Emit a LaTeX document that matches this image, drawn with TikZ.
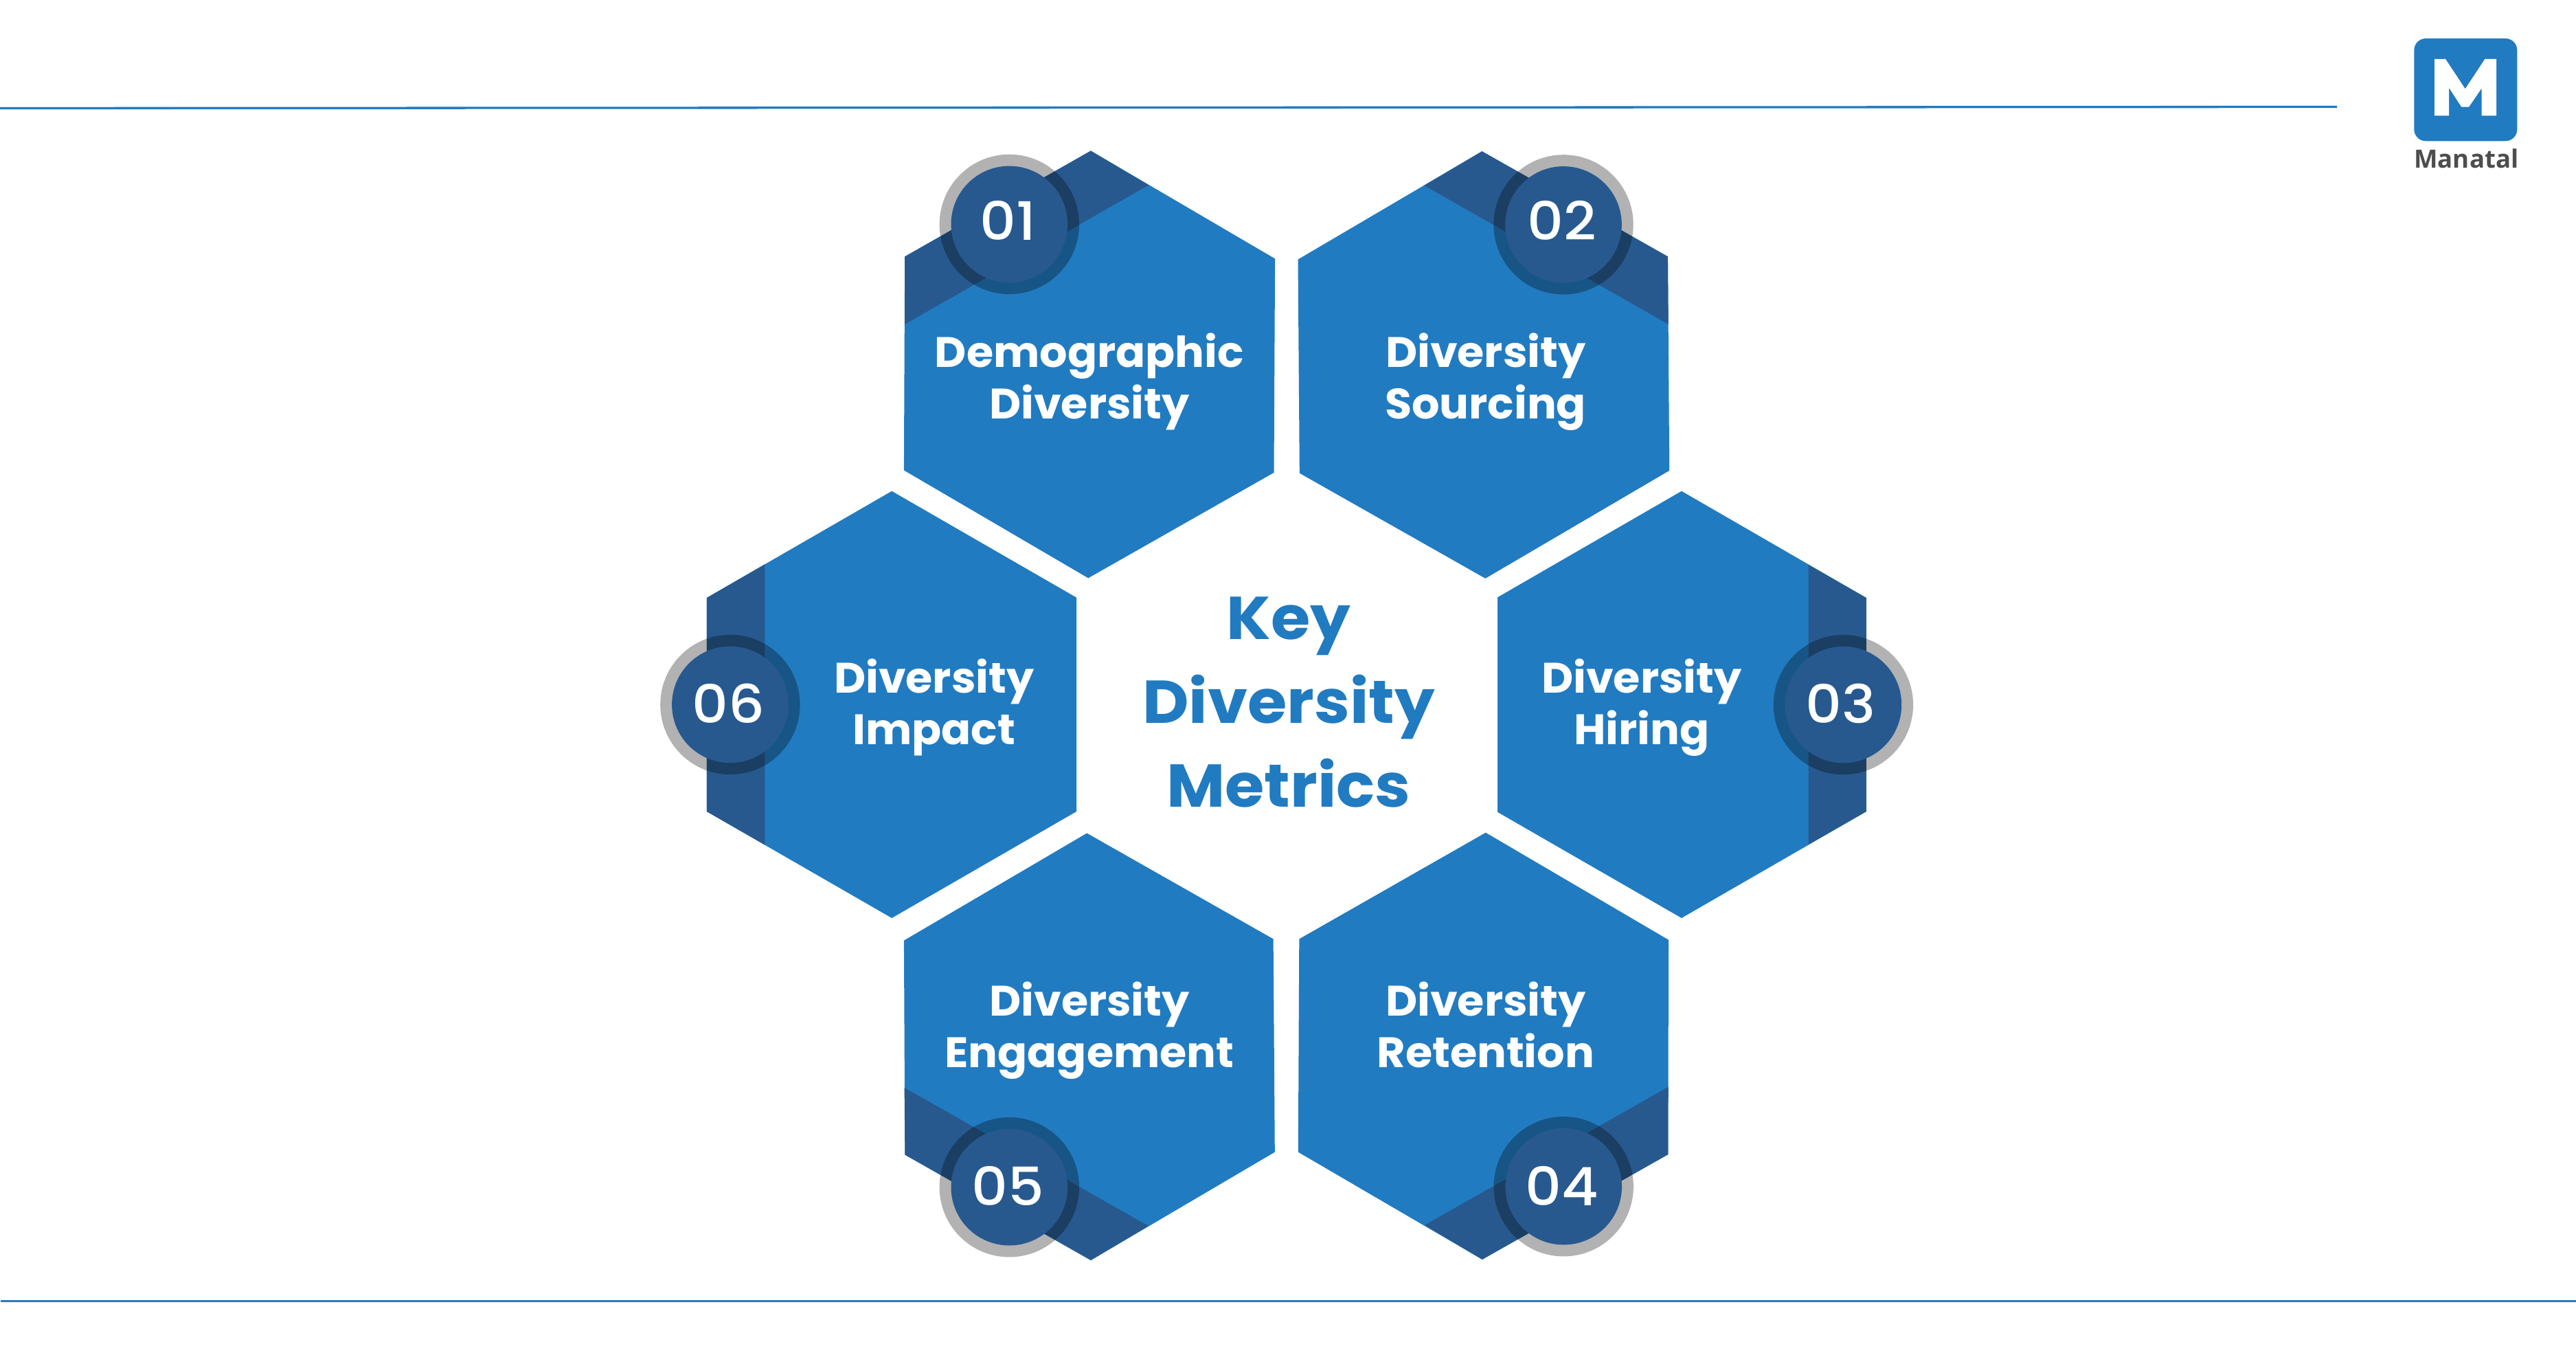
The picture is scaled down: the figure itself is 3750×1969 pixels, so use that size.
\documentclass[tikz,border=0pt]{standalone}
\usepackage{fontspec}
\setmainfont{Poppins}
\newfontfamily\labelfont{Poppins Bold}[FakeStretch=1.025]
\newfontfamily\titlefont{Poppins Bold}[FakeStretch=1.055]
\newfontfamily\numfont{Poppins Medium}[FakeStretch=1.07]
\newfontfamily\logofont{Open Sans}
\definecolor{hexblue}{HTML}{217BC1}
\definecolor{banddark}{HTML}{27598F}
\definecolor{logogray}{HTML}{4D4D4D}
\tikzset{
  hexfill/.style={fill=hexblue,draw=none},
  bandfill/.style={fill=banddark,draw=none},
  ringfill/.style={circle,fill=black,fill opacity=0.3,draw=none,minimum size=203.4pt,inner sep=0pt},
  discfill/.style={circle,fill=banddark,draw=none,minimum size=169.6pt,inner sep=0pt},
  hexlabel/.style={text=white,align=center,inner sep=0pt,anchor=base,font=\labelfont\fontsize{62}{74.7}\selectfont},
  numlabel/.style={text=white,inner sep=0pt,anchor=center,font=\numfont\fontsize{77}{77}\selectfont},
  titlelabel/.style={text=hexblue,align=center,inner sep=0pt,anchor=base,font=\titlefont\fontsize{88}{122}\selectfont},
  logolabel/.style={text=logogray,inner sep=0pt,anchor=base,font=\logofont\bfseries\fontsize{36.6}{40}\selectfont},
  toprule/.style={draw=hexblue,line width=3.3pt},
}
\begin{document}
\begin{tikzpicture}[x=1pt,y=-1pt]
\useasboundingbox (0,0) rectangle (3750,1969);
\fill[white] (0,0) rectangle (3750,1969);
% rules
\coordinate (r1a) at (0,157.5); \coordinate (r1b) at (3402,155.5);
\coordinate (r2a) at (1,1893.3); \coordinate (r2b) at (3750,1893.3);
\draw[toprule] (r1a) -- (r1b);
\draw[toprule] (r2a) -- (r2b);
% hexagon 01
\fill[hexfill] (1587.9,219.5)--(1856.1,376.5)--(1854.5,687.8)--(1584.2,841.3)--(1315.9,684.4)--(1317.2,373.4)--cycle;
\fill[bandfill] (1587.9,219.5)--(1672,269.4)--(1317.2,471.9)--(1317.2,373.4)--cycle;
\node[ringfill] (ring1) at (1469.3,326.4) {};
\node[discfill] (disc1) at (ring1.center) {};
\node[numlabel] (num1) at (1467,321) {01};
\node[hexlabel] (lab1) at (1585.8,609.3) {Demographic\\Diversity};
% hexagon 02
\fill[hexfill] (2157.4,220.2)--(2427.9,373.4)--(2430.2,684.8)--(2162.3,841.8)--(1891.8,688.6)--(1889.5,377.6)--cycle;
\fill[bandfill] (2157.4,220.2)--(2427.9,373.4)--(2428.7,471.9)--(2073.2,269.9)--cycle;
\node[ringfill] (ring2) at (2276,326.9) {};
\node[discfill] (disc2) at (ring2.center) {};
\node[numlabel] (num2) at (2273.7,321) {02};
\node[hexlabel] (lab2) at (2162.7,609.5) {Diversity\\Sourcing};
% hexagon 03
\fill[hexfill] (2447.9,714.7)--(2716.8,870)--(2716.8,1181)--(2447.9,1336)--(2180.2,1181.9)--(2180.2,869.2)--cycle;
\fill[bandfill] (2632.6,822)--(2716.8,870)--(2716.8,1181)--(2632.6,1229)--cycle;
\node[ringfill] (ring3) at (2683.4,1025.6) {};
\node[discfill] (disc3) at (ring3.center) {};
\node[numlabel] (num3) at (2679.4,1024) {03};
\node[hexlabel] (lab3) at (2389.8,1083) {Diversity\\Hiring};
% hexagon 04
\fill[hexfill] (2162.8,1211.7)--(2429,1367.8)--(2428.3,1680)--(2157.7,1832.9)--(1889.8,1676.6)--(1891.3,1366.5)--cycle;
\fill[bandfill] (2428.5,1581.7)--(2428.3,1680)--(2157.7,1832.9)--(2074,1782.8)--cycle;
\node[ringfill] (ring4) at (2276.2,1726.7) {};
\node[discfill] (disc4) at (ring4.center) {};
\node[numlabel] (num4) at (2274,1726) {04};
\node[hexlabel] (lab4) at (2162.8,1553.4) {Diversity\\Retention};
% hexagon 05
\fill[hexfill] (1582.2,1212.5)--(1853.6,1366.5)--(1855.8,1676.6)--(1588,1834)--(1317.4,1680.5)--(1315.9,1368.7)--cycle;
\fill[bandfill] (1316.6,1582.9)--(1671.7,1784)--(1588,1834)--(1317.4,1680.5)--cycle;
\node[ringfill] (ring5) at (1469.3,1727.7) {};
\node[discfill] (disc5) at (ring5.center) {};
\node[numlabel] (num5) at (1467.5,1726) {05};
\node[hexlabel] (lab5) at (1585.9,1553.4) {Diversity\\Engagement};
% hexagon 06
\fill[hexfill] (1298.2,714.7)--(1567,869.6)--(1567,1181)--(1298.2,1336)--(1028.9,1181)--(1028.9,870)--cycle;
\fill[bandfill] (1028.9,870)--(1113.4,821.2)--(1113.4,1229.5)--(1028.9,1181)--cycle;
\node[ringfill] (ring6) at (1062.9,1025.4) {};
\node[discfill] (disc6) at (ring6.center) {};
\node[numlabel] (num6) at (1060.5,1024) {06};
\node[hexlabel] (lab6) at (1359.7,1083) {Diversity\\Impact};
% title
\node[titlelabel] (title) at (1876,1174.7) {Key\\Diversity\\Metrics};
% logo
\fill[fill=hexblue,rounded corners=17pt] (3514.3,56)--(3664.3,56)--(3664.3,205.3)--(3514.3,205.3)--cycle;
\fill[white] (3544,86)--(3560,86)--(3588.7,129.3)--(3617.3,86)--(3634,86)--(3634,168.3)--(3612.7,168.3)--(3612.7,128.3)--(3594,155.7)--(3583.3,155.7)--(3565,127.7)--(3565,168.3)--(3544,168.3)--cycle;
\node[logolabel] (logo) at (3590.3,245) {Manatal};
\end{tikzpicture}
\end{document}
